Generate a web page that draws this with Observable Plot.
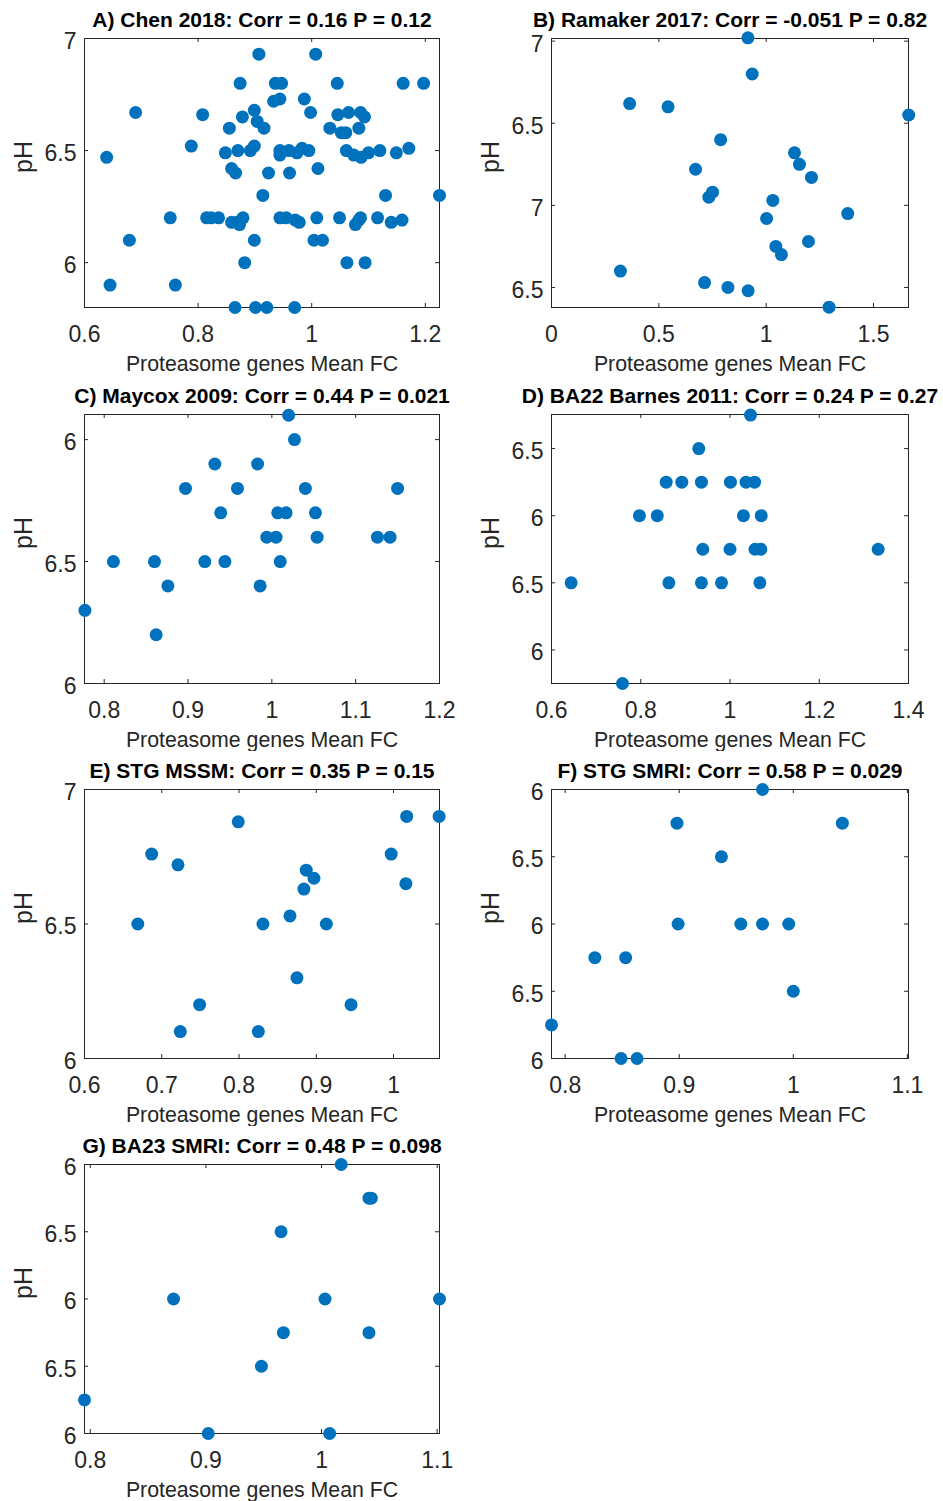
<!DOCTYPE html>
<html>
<head>
<meta charset="utf-8">
<script src="https://cdn.jsdelivr.net/npm/d3@7"></script>
<script src="https://cdn.jsdelivr.net/npm/@observablehq/plot@0.6"></script>
<style>
  html, body { margin: 0; padding: 0; background: white; overflow: hidden; }
  #root { position: relative; width: 943px; height: 1501px; background: white; }
  .panel { position: absolute; }
</style>
</head>
<body>
<div id="root"></div>
<script>
// ---------- DATA ----------
const titles = [
  "A) Chen 2018: Corr = 0.16 P = 0.12",
  "B) Ramaker 2017: Corr = -0.051 P = 0.82",
  "C) Maycox 2009: Corr = 0.44 P = 0.021",
  "D) BA22 Barnes 2011: Corr = 0.24 P = 0.27",
  "E) STG MSSM: Corr = 0.35 P = 0.15",
  "F) STG SMRI: Corr = 0.58 P = 0.029",
  "G) BA23 SMRI: Corr = 0.48 P = 0.098"
];
const xLabel = "Proteasome genes Mean FC";
const yLabel = "pH";

// A) Chen 2018
const chenX = [0.907,1.007, 0.874,0.936,0.947,1.045,1.161,1.197, 0.933,0.944,0.987, 0.690,0.808,0.899,0.878,0.998,1.046,1.065,1.086,1.093,1.083,
  0.855,0.904,0.916,1.032,1.052,1.060, 0.788,0.639,0.848,0.870,0.892,0.899,0.944,0.944,0.960,0.974,0.983,0.995,
  1.061,1.074,1.087,1.100,1.120,1.149,1.171, 0.859,0.866,0.924,0.961,1.011, 0.914,1.130,1.225,
  0.751,0.815,0.823,0.836,0.859,0.869,0.873,0.879,0.944,0.955,0.971,0.978,1.009,1.049,1.077,1.083,1.086,1.116,1.140,1.159,
  0.679,0.899,1.004,1.019, 0.882,1.062,1.094, 0.645,0.760, 0.865,0.901,0.921,0.970];
const chenY = [6.93,6.93, 6.80,6.80,6.80,6.80,6.80,6.80, 6.72,6.73,6.73, 6.67,6.66,6.68,6.65,6.67,6.66,6.67,6.67,6.65,6.60,
  6.60,6.63,6.60,6.60,6.58,6.58, 6.52,6.47,6.49,6.50,6.50,6.52,6.50,6.48,6.50,6.49,6.51,6.50,
  6.50,6.48,6.47,6.49,6.50,6.49,6.51, 6.42,6.40,6.40,6.40,6.42, 6.30,6.30,6.30,
  6.20,6.20,6.20,6.20,6.18,6.18,6.17,6.20,6.20,6.20,6.19,6.18,6.20,6.20,6.17,6.19,6.20,6.20,6.18,6.19,
  6.10,6.10,6.10,6.10, 6.00,6.00,6.00, 5.90,5.90, 5.80,5.80,5.80,5.80];

// B) Ramaker 2017
const ramakerX = [0.915,0.935,0.364,0.543,1.664,0.788,1.132,1.155,1.211,0.671,0.750,0.733,1.031,1.002,1.380,1.045,1.071,1.197,0.321,0.713,0.822,0.916,1.293];
const ramakerY = [7.52,7.30,7.12,7.10,7.05,6.90,6.82,6.75,6.67,6.72,6.58,6.55,6.53,6.42,6.45,6.25,6.20,6.28,6.10,6.03,6.00,5.98,5.88];

// C) Maycox 2009
const maycoxX = [1.020,1.027,0.932,0.983,0.897,0.959,1.040,1.150,0.939,1.007,1.017,1.052,0.994,1.005,1.054,1.126,1.141,0.811,0.860,0.920,0.944,1.010,0.876,0.986,0.777,0.862];
const maycoxY = [7.10,7.00,6.90,6.90,6.80,6.80,6.80,6.80,6.70,6.70,6.70,6.70,6.60,6.60,6.60,6.60,6.60,6.50,6.50,6.50,6.50,6.50,6.40,6.40,6.30,6.20];

// D) BA22 Barnes 2011
const barnesX = [1.046,0.930,0.857,0.892,0.936,1.001,1.036,1.055,0.797,0.837,1.030,1.070,0.939,1.000,1.056,1.069,1.332,0.644,0.863,0.936,0.981,1.067,0.759];
const barnesY = [7.75,7.50,7.25,7.25,7.25,7.25,7.25,7.25,7.00,7.00,7.00,7.00,6.75,6.75,6.75,6.75,6.75,6.50,6.50,6.50,6.50,6.50,5.75];

// E) STG MSSM
const mssmX = [0.799,1.017,1.059,0.687,0.997,0.721,0.887,0.897,0.884,1.016,0.866,0.669,0.831,0.913,0.875,0.749,0.945,0.724,0.825];
const mssmY = [6.88,6.90,6.90,6.76,6.76,6.72,6.70,6.67,6.63,6.65,6.53,6.50,6.50,6.50,6.30,6.20,6.20,6.10,6.10];

// F) STG SMRI
const stgSmriX = [0.973,0.898,1.043,0.937,0.899,0.954,0.973,0.996,0.826,0.853,1.000,0.788,0.849,0.863];
const stgSmriY = [8.00,7.75,7.75,7.50,7.00,7.00,7.00,7.00,6.75,6.75,6.50,6.25,6.00,6.00];

// G) BA23 SMRI
const ba23X = [1.017,1.041,1.043,0.965,0.872,1.003,1.102,0.967,1.041,0.948,0.795,0.902,1.007];
const ba23Y = [8.00,7.75,7.75,7.50,7.00,7.00,7.00,6.75,6.75,6.50,6.25,6.00,6.00];

// axis domains and ticks
const xDomains = [[0.6,1.225],[0,1.663],[0.7765,1.2],[0.6,1.4],[0.6,1.0595],[0.788,1.101],[0.795,1.102]];
const yDomains = [[5.8,7.0],[5.878,7.516],[6,7.103],[5.75,7.754],[6,7],[6,8],[6,8]];
const xTicks = [[0.6,0.8,1,1.2],[0,0.5,1,1.5],[0.8,0.9,1,1.1,1.2],[0.6,0.8,1,1.2,1.4],[0.6,0.7,0.8,0.9,1],[0.8,0.9,1,1.1],[0.8,0.9,1,1.1]];
const yTicks = [[6,6.5,7],[6,6.5,7,7.5],[6,6.5,7],[6,6.5,7,7.5],[6,6.5,7],[6,6.5,7,7.5,8],[6,6.5,7,7.5,8]];
const yTickLabels = [
  ["6","6.5","7"],
  ["6.5","7","6.5","7"],
  ["6","6.5","6"],
  ["6","6.5","6","6.5"],
  ["6","6.5","7"],
  ["6","6.5","6","6.5","6"],
  ["6","6.5","6","6.5","6"]
];
const seriesX = [chenX, ramakerX, maycoxX, barnesX, mssmX, stgSmriX, ba23X];
const seriesY = [chenY, ramakerY, maycoxY, barnesY, mssmY, stgSmriY, ba23Y];

// ---------- LAYOUT ----------
const panelTops = [0, 0, 376, 376, 751, 751, 1126];
const root = document.getElementById("root");
const FONT = "'Liberation Sans', Arial, Helvetica, sans-serif";
const ink = "#262626";
const blue = "#0072BD";

for (let p = 0; p < 7; p++) {
  const right = p % 2 === 1;
  const W = right ? 473 : 470;
  const mL = right ? 81 : 84;
  const mR = right ? 35 : 31;
  const mT = 38, mB = 68;
  const H = mT + 269 + mB;
  const boxW = W - mL - mR, boxH = H - mT - mB;
  const data = seriesX[p].map((x, i) => ({x, y: seriesY[p][i]}));
  const labelMap = new Map(yTicks[p].map((t, i) => [t, yTickLabels[p][i]]));
  const tickLen = 4;

  const chart = Plot.plot({
    width: W, height: H,
    marginLeft: mL, marginRight: mR, marginTop: mT, marginBottom: mB,
    style: {fontFamily: FONT, color: ink, background: "white", overflow: "visible"},
    x: {domain: xDomains[p]},
    y: {domain: yDomains[p]},
    marks: [
      // inward tick marks on all four sides
      Plot.tickX(xTicks[p], {x: d => d, insetTop: boxH - tickLen, stroke: ink}),
      Plot.tickX(xTicks[p], {x: d => d, insetBottom: boxH - tickLen, stroke: ink}),
      Plot.tickY(yTicks[p], {y: d => d, insetRight: boxW - tickLen, stroke: ink}),
      Plot.tickY(yTicks[p], {y: d => d, insetLeft: boxW - tickLen, stroke: ink}),
      Plot.axisX({ticks: xTicks[p], tickSize: 0, tickPadding: 18, fontSize: 23, label: null, tickFormat: d => String(d), fill: ink}),
      Plot.axisY({ticks: yTicks[p], tickSize: 0, tickPadding: 8, dy: 3, fontSize: 23, label: null, tickFormat: d => labelMap.get(d), fill: ink}),
      Plot.frame({stroke: ink, strokeWidth: 1}),
      Plot.dot(data, {x: "x", y: "y", r: 6.5, fill: blue, stroke: "none"}),
      Plot.text([titles[p]], {text: d => d, frameAnchor: "top", dy: -12, lineAnchor: "bottom", fontSize: 21, fontWeight: "bold", fill: "black"}),
      Plot.text([xLabel], {text: d => d, frameAnchor: "bottom", dy: 63, lineAnchor: "bottom", fontSize: 21.3, fill: ink}),
      Plot.text([yLabel], {text: d => d, frameAnchor: "left", dx: -61, rotate: -90, lineAnchor: "middle", fontSize: 25, fill: ink})
    ]
  });
  const div = document.createElement("div");
  div.className = "panel";
  div.style.left = (right ? 470 : 0) + "px";
  div.style.top = panelTops[p] + "px";
  div.style.width = W + "px";
  div.appendChild(chart);
  root.appendChild(div);
}
</script>
</body>
</html>
